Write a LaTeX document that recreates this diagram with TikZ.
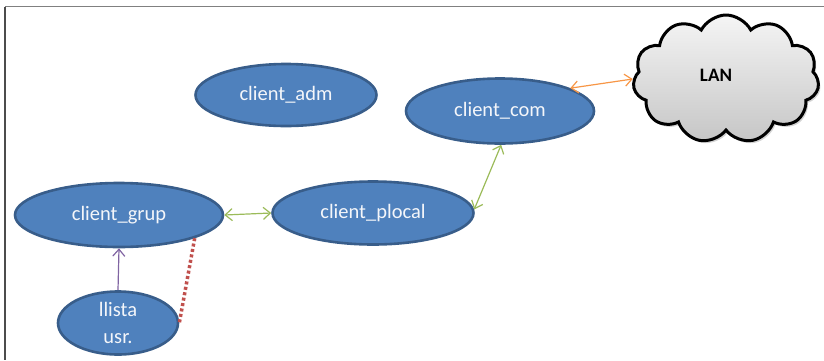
\documentclass[tikz,border=0pt]{standalone}
\usepackage{fontspec}
\setmainfont{Carlito}
\usetikzlibrary{shapes.geometric,shapes.symbols,arrows.meta,shadows}
\definecolor{ovalfill}{HTML}{4F81BD}
\definecolor{ovaledge}{HTML}{385D8A}
\definecolor{ovaltext}{HTML}{F4F6FA}
\definecolor{linkgreen}{HTML}{9BBB59}
\definecolor{linkorange}{HTML}{F79646}
\definecolor{linkpurple}{HTML}{8064A2}
\definecolor{linkred}{HTML}{C0504D}
\tikzset{
  oval/.style={ellipse, draw=ovaledge, line width=2.6pt, fill=ovalfill,
    text=ovaltext, inner sep=0pt, font=\fontsize{20.5}{27}\selectfont, align=center},
  barb/.tip={Straight Barb[length=7pt,width=12pt]},
  link/.style={line width=1.2pt, barb-barb},
}
\begin{document}
\begin{tikzpicture}[x=1pt,y=-1pt]
\useasboundingbox (0,0) rectangle (824,360);
% frame edges
\draw[gray, line width=1.5pt] (824,6.5) -- (5,6.5);
\draw[black!70, line width=1.5pt] (5,6.5) -- (5,360);

% the program's modules
\node[oval, minimum width=181pt, minimum height=62pt] (adm) at (286,95) {client\_adm};
\node[oval, minimum width=188pt, minimum height=65pt] (com) at (500,111) {client\_com};
\node[oval, minimum width=208pt, minimum height=64pt] (grup) at (119,215) {client\_grup};
\node[oval, minimum width=201pt, minimum height=63pt] (plocal) at (373,213) {client\_plocal};
\node[oval, minimum width=120pt, minimum height=63pt] (llista) at (118,323) {llista\\usr.};

% network cloud
\node[cloud, cloud puffs=11, cloud puff arc=125, aspect=1.5,
  draw=black, line width=3pt, top color=gray!8, bottom color=gray!45,
  minimum width=186pt, minimum height=128pt, inner sep=0pt,
  drop shadow={shadow xshift=2pt, shadow yshift=-2.5pt, opacity=0.35},
  label={[xshift=-10pt, yshift=4pt, font=\fontsize{19}{23}\bfseries]center:LAN}]
  (lan) at (726,79) {};

% links
\draw[link, linkgreen] (grup.east) -- (plocal.west);
\draw[link, linkgreen] (plocal.2) -- (com.-88);
\draw[link, linkorange] (com.18) -- (lan.west);
\draw[line width=1.2pt, linkpurple, -barb] (llista.north) -- (grup.south);
\draw[line width=3.5pt, linkred, dash pattern=on 3pt off 2.5pt] (grup.-17.5) -- (llista.east);
\end{tikzpicture}
\end{document}
